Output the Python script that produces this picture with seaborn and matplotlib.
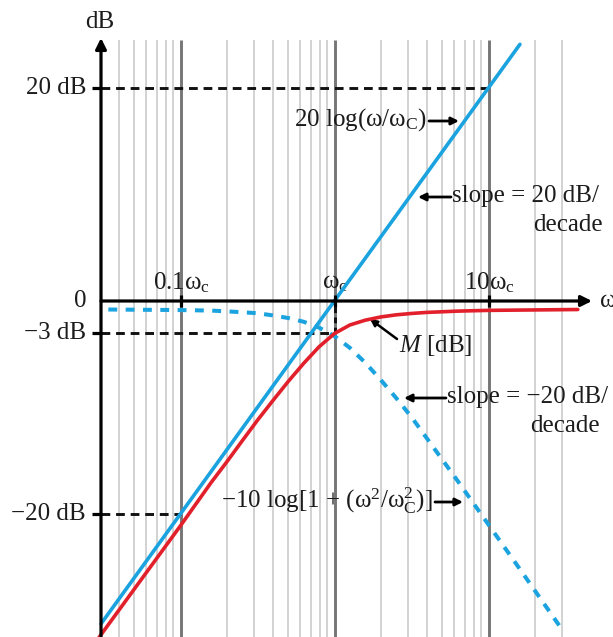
import matplotlib
matplotlib.use("Agg")
import matplotlib.pyplot as plt
import seaborn as sns

# ---------------- data ----------------
# straight-line asymptote 20 log(w/wc)
asym_ratio = [0.0305, 16.0]
asym_db = [-30.3, 24.1]

# dashed curve  -10 log[1 + (w^2/wc^2)]
pole_ratio = [0.034, 0.1, 0.158, 0.251, 0.316, 0.398, 0.501, 0.631, 0.794, 1.0,
              1.259, 1.585, 1.995, 2.512, 3.162, 3.981, 6.31, 10.0, 15.85, 30.2]
pole_db = [-0.8, -0.85, -0.9, -1.05, -1.15, -1.35, -1.6, -1.95, -2.5, -3.3,
           -4.4, -5.8, -7.4, -9.1, -10.9, -12.9, -16.9, -21.0, -25.1, -30.9]

# magnitude M [dB]
m_ratio = [0.0282, 0.1, 0.158, 0.2, 0.251, 0.316, 0.398, 0.501, 0.631, 0.794, 1.0,
           1.259, 1.585, 1.995, 2.512, 3.162, 3.981, 6.31, 10.0, 38.0]
m_db = [-32.0, -21.1, -17.05, -15.1, -13.15, -11.2, -9.35, -7.55, -5.85, -4.3, -3.05,
        -2.25, -1.8, -1.5, -1.3, -1.17, -1.07, -0.95, -0.88, -0.8]

# reference levels (dashed black guides) and the frequency where they end
ref_levels = [20, -3, -20]
ref_ratios = [10, 1, 0.1]

ytick_labels = ["20 dB", "0", "\u22123 dB", "\u221220 dB"]
ytick_values = [20, 0, -3, -20]
xtick_values = [0.1, 1, 10]
xtick_labels = [r"0.1$\mathrm{\omega}_\mathrm{c}$", r"$\mathrm{\omega}_\mathrm{c}$",
                r"10$\mathrm{\omega}_\mathrm{c}$"]

# ---------------- style ----------------
sns.set_theme(style="white")
plt.rcParams['font.family'] = ['Liberation Serif', 'DejaVu Serif']
plt.rcParams['mathtext.fontset'] = 'custom'
plt.rcParams['mathtext.rm'] = 'Liberation Serif'
plt.rcParams['mathtext.it'] = 'Liberation Serif:italic'
plt.rcParams['mathtext.bf'] = 'Liberation Serif:bold'

BLUE = '#1BA3DF'
RED = '#E2202C'
TXT = '#1c1c1c'
FS = 18

W, H = 613, 637
fig = plt.figure(figsize=(W / 100, H / 100), dpi=100)
ax = fig.add_axes([0, 0, 1, 1])
ax.set_xscale('log')
X0PX, DEC = 334.5, 154.0
Y0PX, PXDB = 301.0, 10.65
ax.set_xlim(10 ** (-X0PX / DEC), 10 ** ((W - X0PX) / DEC))
ax.set_ylim(-(H - Y0PX) / PXDB, Y0PX / PXDB)
ax.axis('off')


def P(xp, yp):
    """pixel position -> data position"""
    return 10 ** ((xp - X0PX) / DEC), (Y0PX - yp) / PXDB


ybot = ax.get_ylim()[0]
grid_top = P(0, 40)[1]
x_axis0 = P(101, 0)[0]

# ---- log grid ----
for d in range(-2, 2):
    for k in range(1, 10):
        v = k * 10.0 ** d
        if 0.035 < v < 32:
            if k == 1:
                ax.vlines(v, ybot, grid_top, color='#767676', lw=2.1, zorder=0)
            else:
                ax.vlines(v, ybot, grid_top, color='#c6c6c6', lw=1.1, zorder=0)

# ---- dashed black guide lines ----
for lvl, r in zip(ref_levels, ref_ratios):
    ax.hlines(lvl, x_axis0, r, colors='#111111', lw=2.1,
              linestyles=(0, (3.0, 2.0)), zorder=2)
ax.vlines(1, -3, 0, colors='#111111', lw=2.1, linestyles=(0, (2.0, 1.5)), zorder=2)

# ---- curves ----
sns.lineplot(x=pole_ratio, y=pole_db, ax=ax, color=BLUE, lw=2.9,
             linestyle=(0, (2.2, 2.1)), estimator=None, zorder=3)
sns.lineplot(x=asym_ratio, y=asym_db, ax=ax, color=BLUE, lw=2.6,
             estimator=None, zorder=4)
sns.lineplot(x=m_ratio, y=m_db, ax=ax, color=RED, lw=2.6,
             estimator=None, zorder=4)

# ---- axes with arrows ----
arr = dict(arrowstyle='-|>', color='black', lw=2.3, mutation_scale=16,
           shrinkA=0, shrinkB=0)
ax.annotate('', xy=P(101, 38), xytext=(x_axis0, ybot), arrowprops=arr, zorder=5)
ax.annotate('', xy=(P(592, 0)[0], 0), xytext=(x_axis0, 0), arrowprops=arr, zorder=5)
ax.text(*P(600, 301), "\u03c9", fontsize=FS, color=TXT, ha='left', va='center')
ax.text(*P(100, 22), "dB", fontsize=FS, color=TXT, ha='center', va='center')

# y ticks + labels
for v, lab in zip(ytick_values, ytick_labels):
    if v != 0:
        ax.hlines(v, P(92, 0)[0], x_axis0, colors='black', lw=2.3, zorder=5)
    ax.text(P(86, 0)[0], v, lab, fontsize=FS, color=TXT, ha='right', va='center')

# x ticks + labels
for v, lab in zip(xtick_values, xtick_labels):
    ax.vlines(v, -0.55, 0.55, colors='black', lw=2.3, zorder=5)
    ax.text(v * 1.01, P(0, 283)[1], lab, fontsize=FS, color=TXT, ha='center',
            va='center')

# ---- annotations ----
small = dict(arrowstyle='-|>', color='black', lw=2.0, mutation_scale=11,
             shrinkA=0, shrinkB=0)
ax.text(*P(427, 120), r"20 log($\mathrm{\omega}/\mathrm{\omega}_\mathrm{C}$)",
        fontsize=FS, color=TXT, ha='right', va='center')
ax.annotate('', xy=P(459, 121), xytext=P(429, 121), arrowprops=small)

ax.text(*P(452, 196), "slope = 20 dB/", fontsize=FS, color=TXT, ha='left',
        va='center')
ax.text(*P(603, 225), "decade", fontsize=FS, color=TXT, ha='right', va='center')
ax.annotate('', xy=P(418, 197), xytext=P(451, 197), arrowprops=small)

ax.text(*P(399, 346), r"$M$ [dB]", fontsize=FS, color=TXT, ha='left', va='center')
ax.annotate('', xy=P(370, 319), xytext=P(397, 339),
            arrowprops=dict(arrowstyle='-|>', color='black', lw=1.8,
                            mutation_scale=10, shrinkA=0, shrinkB=0))

ax.text(*P(447, 397), "slope = \u221220 dB/", fontsize=FS, color=TXT, ha='left',
        va='center')
ax.text(*P(600, 426), "decade", fontsize=FS, color=TXT, ha='right', va='center')
ax.annotate('', xy=P(404, 398), xytext=P(446, 398), arrowprops=small)

ax.text(*P(433, 501),
        "\u221210 log[1 + ($\\mathrm{\\omega}^2/\\mathrm{\\omega}^2_\\mathrm{C}$)]",
        fontsize=FS, color=TXT, ha='right', va='center')
ax.annotate('', xy=P(463, 502), xytext=P(435, 502), arrowprops=small)

fig.savefig("out.png", dpi=100)
